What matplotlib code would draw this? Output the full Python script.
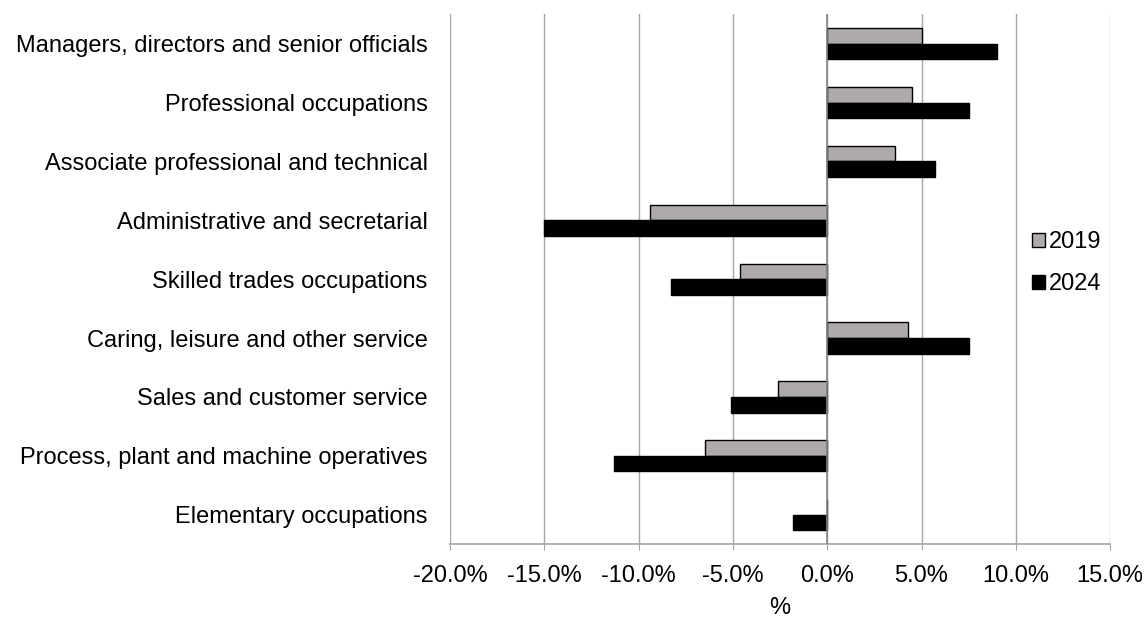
import matplotlib
matplotlib.use("Agg")
import matplotlib.pyplot as plt
import numpy as np
from matplotlib.ticker import FuncFormatter

plt.rcParams['font.family'] = ['Liberation Sans', 'DejaVu Sans']

# occupation groups, top to bottom
occupations = [
    "Managers, directors and senior officials",
    "Professional occupations",
    "Associate professional and technical",
    "Administrative and secretarial",
    "Skilled trades occupations",
    "Caring, leisure and other service",
    "Sales and customer service",
    "Process, plant and machine operatives",
    "Elementary occupations",
]
# percentage change
change_2019 = [5.0, 4.5, 3.6, -9.4, -4.6, 4.3, -2.6, -6.5, 0.0]
change_2024 = [9.0, 7.5, 5.7, -15.0, -8.3, 7.5, -5.1, -11.3, -1.8]

fs = 17

fig = plt.figure(figsize=(11.48, 6.19), dpi=100)
ax = fig.add_axes([0.392, 0.121, 0.575, 0.856])

y = np.arange(len(occupations))
h = 0.265
ax.barh(y - h / 2, change_2019, height=h, color="#ADAAA9", edgecolor="black",
        linewidth=1.0, label="2019", zorder=3)
ax.barh(y + h / 2, change_2024, height=h, color="black", edgecolor="black",
        linewidth=1.0, label="2024", zorder=3)

ax.set_xlim(-20, 15)
ax.set_ylim(len(occupations) - 0.5, -0.5)
ax.set_xticks(np.arange(-20, 15.1, 5))
ax.xaxis.set_major_formatter(FuncFormatter(lambda v, p: "%.1f%%" % v))
ax.set_yticks(y)
ax.set_yticklabels(occupations)

ax.grid(axis="x", color="#A6A6A6", linewidth=1.0, zorder=0)
ax.axvline(0, color="#868686", linewidth=1.2, zorder=4)
for s in ["top", "right", "left"]:
    ax.spines[s].set_visible(False)
ax.spines["bottom"].set_color("#A6A6A6")
ax.spines["bottom"].set_linewidth(1.2)

ax.tick_params(axis="y", length=0, pad=16, labelsize=fs)
ax.tick_params(axis="x", length=4, color="#A6A6A6", pad=11, labelsize=fs)
ax.set_xlabel("%", fontsize=fs, labelpad=7)

leg = ax.legend(loc="center left", bbox_to_anchor=(0.882, 0.53), frameon=False,
                fontsize=fs, handlelength=0.55, handleheight=0.55,
                handletextpad=0.17, labelspacing=0.85, borderpad=0,
                borderaxespad=0)

fig.savefig("out.png", dpi=100)
